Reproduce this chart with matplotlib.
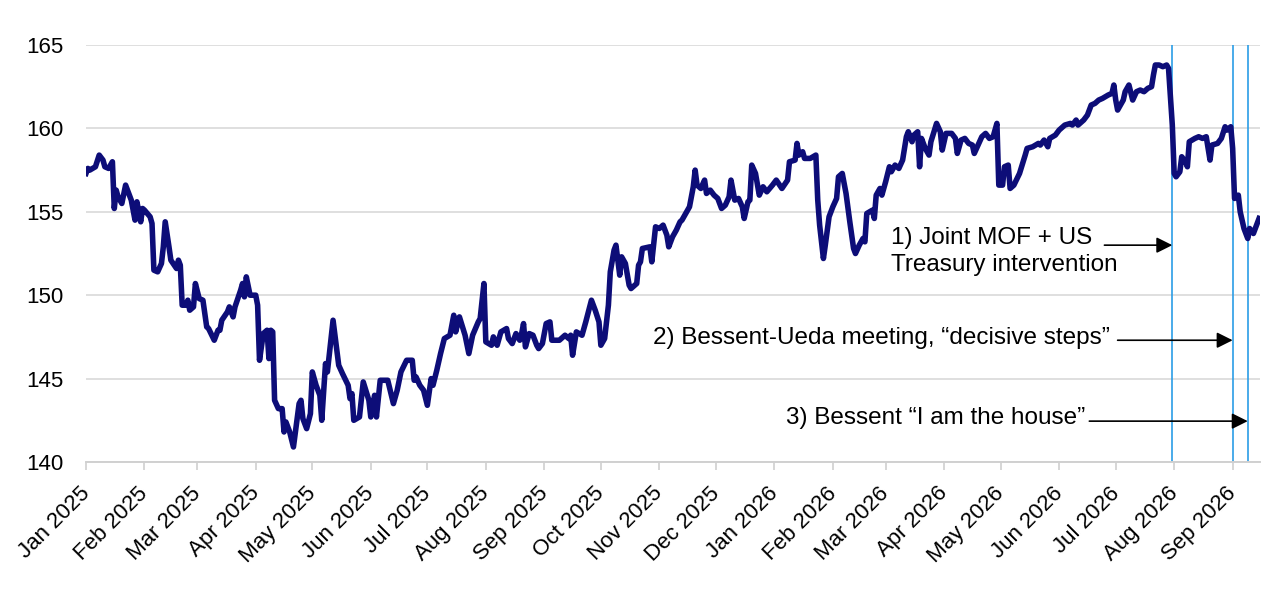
import matplotlib.pyplot as plt
import matplotlib.dates as mdates
import matplotlib.transforms as mtransforms
import pandas as pd

plt.rcParams['font.family'] = ['Liberation Sans', 'DejaVu Sans']

start = pd.Timestamp('2025-01-01')

# calendar days since 1 Jan 2025
day_offsets = [
    0, 1, 2, 5, 7, 9, 10, 12, 14, 15, 16, 17, 19, 21, 23, 24, 26, 27, 29, 30,
    31, 34, 35, 36, 38, 40, 41, 42, 44, 45, 48, 49, 50, 51, 53, 54, 55, 57, 58, 60,
    62, 64, 65, 68, 70, 71, 72, 75, 76, 78, 79, 82, 83, 84, 85, 87, 90, 91, 92, 94,
    96, 97, 98, 99, 100, 102, 104, 105, 106, 108, 110, 113, 114, 115, 117, 119, 120, 122, 124, 125,
    127, 128, 131, 134, 136, 139, 140, 141, 142, 145, 147, 150, 151, 153, 154, 156, 158, 160, 163, 165,
    167, 170, 173, 174, 175, 177, 179, 181, 183, 184, 186, 188, 190, 193, 195, 196, 198, 201, 203, 205,
    208, 209, 211, 212, 215, 216, 218, 220, 223, 224, 226, 228, 230, 231, 232, 233, 235, 237, 239, 240,
    242, 244, 246, 247, 251, 254, 256, 257, 258, 260, 263, 265, 268, 270, 272, 273, 275, 277, 278, 280,
    281, 283, 284, 286, 288, 289, 292, 293, 294, 295, 299, 300, 302, 304, 306, 308, 309, 311, 313, 315,
    316, 318, 320, 322, 323, 324, 326, 328, 329, 331, 333, 335, 337, 339, 341, 342, 344, 346, 348, 349,
    351, 352, 353, 355, 357, 359, 361, 364, 366, 369, 372, 373, 376, 377, 378, 380, 381, 384, 387, 388,
    389, 391, 392, 394, 396, 398, 399, 401, 403, 405, 407, 408, 410, 412, 413, 414, 417, 418, 419, 421,
    422, 424, 426, 427, 429, 431, 433, 435, 436, 438, 439, 441, 442, 443, 445, 447, 448, 451, 453, 454,
    456, 459, 461, 462, 464, 466, 468, 470, 471, 473, 475, 477, 479, 481, 483, 484, 486, 487, 489, 490,
    492, 495, 498, 499, 502, 505, 506, 508, 510, 511, 514, 516, 519, 522, 523, 525, 526, 529, 531, 533,
    535, 537, 539, 542, 544, 545, 546, 547, 550, 551, 553, 555, 557, 559, 561, 563, 565, 566, 567, 569,
    571, 573, 574, 576, 577, 578, 580, 581, 583, 584, 585, 588, 590, 592, 594, 596, 597, 600, 602, 604,
    605, 607, 608, 609, 611, 612, 614, 616, 617, 619, 621, 622,
]

usdjpy = [
    157.3, 157.6, 157.5, 157.7, 158.4, 158.1, 157.7, 157.6, 158.0, 155.2, 156.3, 155.9, 155.5, 156.6, 156.0, 155.7, 154.5, 155.6, 154.4, 155.2,
    155.1, 154.7, 154.3, 151.5, 151.4, 151.9, 152.9, 154.4, 152.9, 152.1, 151.6, 152.1, 151.8, 149.4, 149.4, 149.7, 149.1, 149.3, 150.7, 149.8,
    149.7, 148.1, 148.0, 147.3, 147.9, 147.9, 148.5, 149.0, 149.3, 148.7, 149.3, 150.3, 150.7, 149.9, 151.1, 150.0, 150.0, 149.4, 146.1, 147.7,
    147.9, 146.2, 147.9, 147.8, 143.7, 143.2, 143.2, 141.8, 142.4, 141.8, 140.9, 143.5, 143.7, 142.6, 142.0, 142.9, 145.4, 144.6, 144.0, 142.5,
    145.9, 145.4, 148.5, 145.8, 145.3, 144.6, 143.8, 144.1, 142.5, 142.7, 144.8, 143.7, 142.7, 144.0, 142.7, 144.9, 144.9, 144.9, 143.5, 144.3,
    145.4, 146.1, 146.1, 144.9, 145.1, 144.6, 144.3, 143.4, 145.0, 144.6, 145.5, 146.5, 147.4, 147.6, 148.8, 147.8, 148.7, 147.6, 146.5, 147.6,
    148.4, 148.6, 150.7, 147.2, 147.0, 147.5, 147.0, 147.8, 148.0, 147.4, 147.1, 147.7, 147.3, 147.7, 148.3, 146.9, 147.7, 147.6, 147.0, 146.8,
    147.1, 148.3, 148.4, 147.3, 147.3, 147.6, 147.4, 147.6, 146.4, 147.8, 147.6, 148.4, 149.7, 149.1, 148.4, 147.0, 147.4, 149.4, 151.4, 152.7,
    153.0, 151.2, 152.3, 151.9, 150.6, 150.4, 150.7, 151.8, 152.0, 152.8, 152.9, 152.0, 154.1, 154.0, 154.2, 153.6, 152.9, 153.5, 153.9, 154.4,
    154.5, 154.9, 155.3, 156.5, 157.5, 156.6, 156.4, 156.9, 156.1, 156.3, 156.0, 155.8, 155.2, 155.4, 155.9, 156.9, 155.7, 155.8, 155.3, 154.6,
    155.6, 155.7, 157.8, 157.3, 156.0, 156.5, 156.2, 156.6, 156.9, 156.4, 156.9, 158.0, 158.1, 159.1, 158.4, 158.6, 158.2, 158.2, 158.4, 155.7,
    154.2, 152.2, 153.0, 154.7, 155.3, 155.8, 157.1, 157.3, 156.1, 154.4, 152.8, 152.5, 153.0, 153.4, 153.2, 154.9, 155.1, 154.6, 156.0, 156.4,
    156.0, 156.8, 157.7, 157.4, 157.8, 157.6, 158.1, 159.5, 159.8, 159.2, 159.6, 159.8, 157.7, 159.4, 158.8, 158.4, 159.2, 160.3, 159.8, 158.7,
    159.7, 159.7, 159.4, 158.5, 159.3, 159.4, 159.1, 159.0, 158.5, 159.0, 159.5, 159.7, 159.4, 159.5, 160.3, 156.6, 156.6, 157.7, 157.8, 156.4,
    156.6, 157.3, 158.4, 158.8, 158.9, 159.1, 159.0, 159.3, 158.9, 159.4, 159.6, 159.9, 160.2, 160.3, 160.2, 160.5, 160.2, 160.5, 160.8, 161.4,
    161.5, 161.7, 161.8, 162.0, 162.1, 162.6, 161.7, 161.1, 161.7, 162.2, 162.6, 161.7, 162.2, 162.3, 162.2, 162.4, 162.5, 163.2, 163.8, 163.8,
    163.7, 163.8, 163.6, 160.2, 157.3, 157.1, 157.4, 158.3, 158.0, 157.7, 159.2, 159.4, 159.5, 159.4, 159.5, 158.1, 159.0, 159.1, 159.4, 160.1,
    159.9, 160.1, 158.8, 155.8, 156.0, 155.0, 154.0, 153.4, 154.0, 153.7, 154.3, 154.6,
]

event_dates = ['2026-07-31', '2026-09-01', '2026-09-09']
event_labels = [
    '1) Joint MOF + US\nTreasury intervention',
    '2) Bessent-Ueda meeting, \u201cdecisive steps\u201d',
    '3) Bessent \u201cI am the house\u201d',
]

dates = start + pd.to_timedelta(day_offsets, unit='D')
events = pd.to_datetime(event_dates)

fig = plt.figure(figsize=(12.8, 6), dpi=100)
ax = fig.add_axes([86 / 1280, 1 - 462 / 600, (1260 - 86) / 1280, (462 - 45) / 600])

ax.plot(dates, usdjpy, color='#0d0d78', lw=4.0, solid_joinstyle='round', zorder=3)

for d in events:
    ax.axvline(d, color='#2a9de6', lw=1.2, zorder=2)

ax.set_ylim(140, 165)
ax.set_yticks([140, 145, 150, 155, 160, 165])
ax.set_xlim(start, start + pd.Timedelta(days=622.5))
ax.grid(axis='y', color='#d9d9d9', lw=1.2, zorder=0)

for s in ['top', 'right', 'left']:
    ax.spines[s].set_visible(False)
ax.spines['bottom'].set_color('#d0d0d0')
ax.spines['bottom'].set_linewidth(1.4)

ax.xaxis.set_major_locator(mdates.MonthLocator())
ax.xaxis.set_major_formatter(mdates.DateFormatter('%b %Y'))
ax.tick_params(axis='x', length=6, width=1.2, color='#d0d0d0', labelsize=16, pad=4)
ax.tick_params(axis='y', length=0, labelsize=16, pad=16)
shift = mtransforms.ScaledTranslation(-5 / 72, -5 / 72, fig.dpi_scale_trans)
for lbl in ax.get_xticklabels():
    lbl.set_rotation(45)
    lbl.set_ha('right')
    lbl.set_va('top')
    lbl.set_rotation_mode('anchor')
    lbl.set_transform(lbl.get_transform() + shift)

# annotations: text plus arrow pointing at each event line
arrow = dict(arrowstyle='-|>', color='black', lw=1.2, mutation_scale=24, shrinkA=0, shrinkB=0)
ax.text(pd.Timestamp('2026-03-04'), 152.6, event_labels[0], fontsize=17.5, ha='left', va='center',
        linespacing=1.3)
ax.annotate('', xy=(events[0], 153.0), xytext=(pd.Timestamp('2026-06-25'), 153.0), arrowprops=arrow)

ax.text(pd.Timestamp('2026-06-28'), 147.45, event_labels[1], fontsize=17.5, ha='right', va='center')
ax.annotate('', xy=(events[1], 147.3), xytext=(pd.Timestamp('2026-07-02'), 147.3), arrowprops=arrow)

ax.text(pd.Timestamp('2026-06-15'), 142.65, event_labels[2], fontsize=17.5, ha='right', va='center')
ax.annotate('', xy=(events[2], 142.45), xytext=(pd.Timestamp('2026-06-17'), 142.45), arrowprops=arrow)

fig.savefig('out.png', dpi=100)
